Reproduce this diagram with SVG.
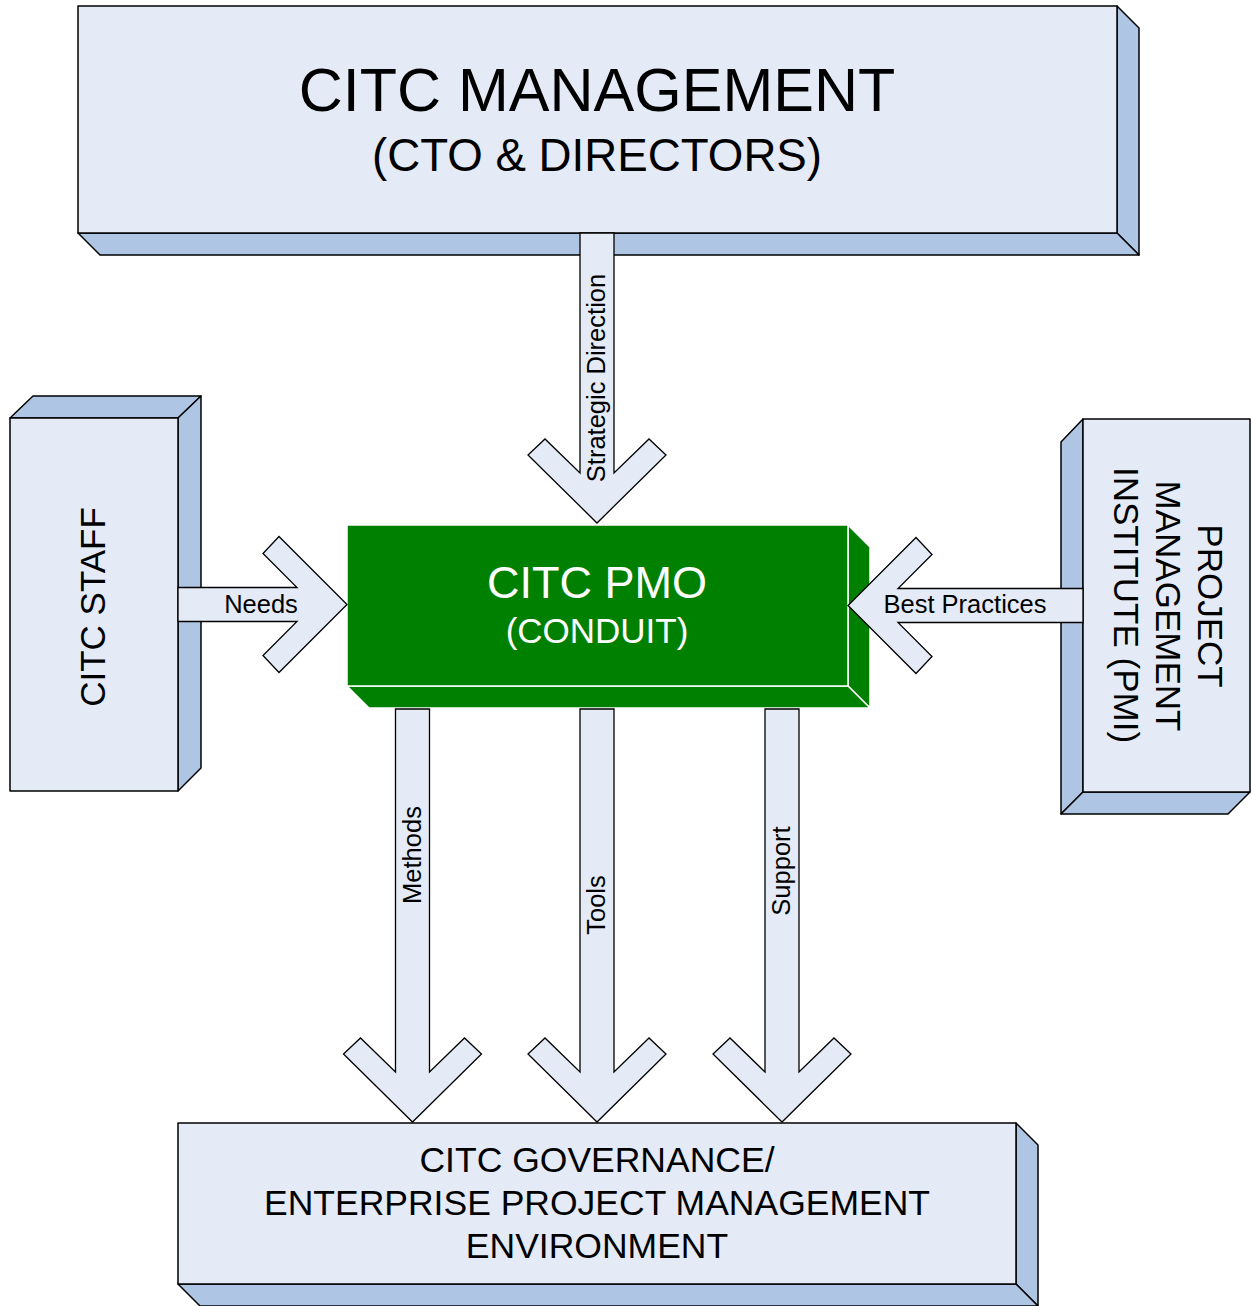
<svg xmlns="http://www.w3.org/2000/svg" width="1252" height="1306" viewBox="0 0 1252 1306">
  <style>
    .face { fill: #E4EBF6; stroke: #000; stroke-width: 1.5; stroke-linejoin: round; }
    .side { fill: #AFC5E4; stroke: #000; stroke-width: 1.5; stroke-linejoin: round; }
    .gface { fill: #008000; stroke: #fff; stroke-width: 1.5; }
    .arrow { fill: #E4EBF6; stroke: #000; stroke-width: 1.3; stroke-linejoin: miter; }
    text { font-family: "Liberation Sans", Arial, sans-serif; fill: #000; text-anchor: middle; }
    .lbl { font-size: 25.5px; }
    .pmo { fill: #fff; }
  </style>
  <rect width="1252" height="1306" fill="#fff"/>

  <g id="management">
    <polygon class="side" points="1117,6 1139,28 1139,255 1117,233"/>
    <polygon class="side" points="78,233 1117,233 1139,255 100,255"/>
    <rect class="face" x="78" y="6" width="1039" height="227"/>
    <text x="597" y="111" font-size="61">CITC MANAGEMENT</text>
    <text x="597" y="171" font-size="45.7">(CTO &amp; DIRECTORS)</text>
  </g>

  <g id="staff">
    <polygon class="side" points="10,418 33,396 201,396 178,418"/>
    <polygon class="side" points="178,418 201,396 201,768 178,791"/>
    <rect class="face" x="10" y="418" width="168" height="373"/>
    <text transform="translate(105,607) rotate(-90)" font-size="35">CITC STAFF</text>
  </g>

  <g id="pmi">
    <polygon class="side" points="1083,419 1061,442 1061,814 1083,792"/>
    <polygon class="side" points="1083,792 1250,792 1228,814 1061,814"/>
    <rect class="face" x="1083" y="419" width="167" height="373"/>
    <g font-size="35">
      <text transform="translate(1198,606) rotate(90)">PROJECT</text>
      <text transform="translate(1156,606) rotate(90)">MANAGEMENT</text>
      <text transform="translate(1114,605) rotate(90)">INSTITUTE (PMI)</text>
    </g>
  </g>

  <g id="pmo">
    <polygon class="gface" points="848,525 870,547 870,708 848,686"/>
    <polygon class="gface" points="347,686 848,686 870,708 369,708"/>
    <rect class="gface" x="347" y="525" width="501" height="161"/>
    <text class="pmo" x="597" y="598" font-size="45">CITC PMO</text>
    <text class="pmo" x="597" y="643" font-size="35">(CONDUIT)</text>
  </g>

  <g id="governance">
    <polygon class="side" points="1016,1123 1038,1145 1038,1306 1016,1284"/>
    <polygon class="side" points="178,1284 1016,1284 1038,1306 200,1306"/>
    <rect class="face" x="178" y="1123" width="838" height="161"/>
    <g font-size="35.5">
      <text x="597" y="1172">CITC GOVERNANCE/</text>
      <text x="597" y="1215">ENTERPRISE PROJECT MANAGEMENT</text>
      <text x="597" y="1258">ENVIRONMENT</text>
    </g>
  </g>

  <g id="connectors">
    <g id="strategic-direction">
      <path class="arrow" d="M580,233 L580,473 L545,439 L528,455 L597,523 L666,455 L649,439 L614,473 L614,233 Z"/>
      <text class="lbl" transform="translate(605,378) rotate(-90)">Strategic Direction</text>
    </g>
    <g id="needs">
      <path class="arrow" d="M178,587.5 L297,587.5 L263,553.5 L279,536.5 L347,604.5 L279,672.5 L263,655.5 L297,621.5 L178,621.5 Z"/>
      <text class="lbl" x="261" y="613">Needs</text>
    </g>
    <g id="best-practices">
      <path class="arrow" d="M1083,588.5 L898,588.5 L932,554.5 L916,537.5 L848,605.5 L916,673.5 L932,656.5 L898,622.5 L1083,622.5 Z"/>
      <text class="lbl" x="965" y="613">Best Practices</text>
    </g>
    <g id="methods">
      <path class="arrow" d="M395.5,709 L395.5,1072 L360.5,1038 L343.5,1054 L412.5,1122 L481.5,1054 L464.5,1038 L429.5,1072 L429.5,709 Z"/>
      <text class="lbl" transform="translate(421,855) rotate(-90)">Methods</text>
    </g>
    <g id="tools">
      <path class="arrow" d="M580,709 L580,1072 L545,1038 L528,1054 L597,1122 L666,1054 L649,1038 L614,1072 L614,709 Z"/>
      <text class="lbl" transform="translate(605,905) rotate(-90)">Tools</text>
    </g>
    <g id="support">
      <path class="arrow" d="M765,709 L765,1072 L730,1038 L713,1054 L782,1122 L851,1054 L834,1038 L799,1072 L799,709 Z"/>
      <text class="lbl" transform="translate(790,871) rotate(-90)">Support</text>
    </g>
  </g>
</svg>
